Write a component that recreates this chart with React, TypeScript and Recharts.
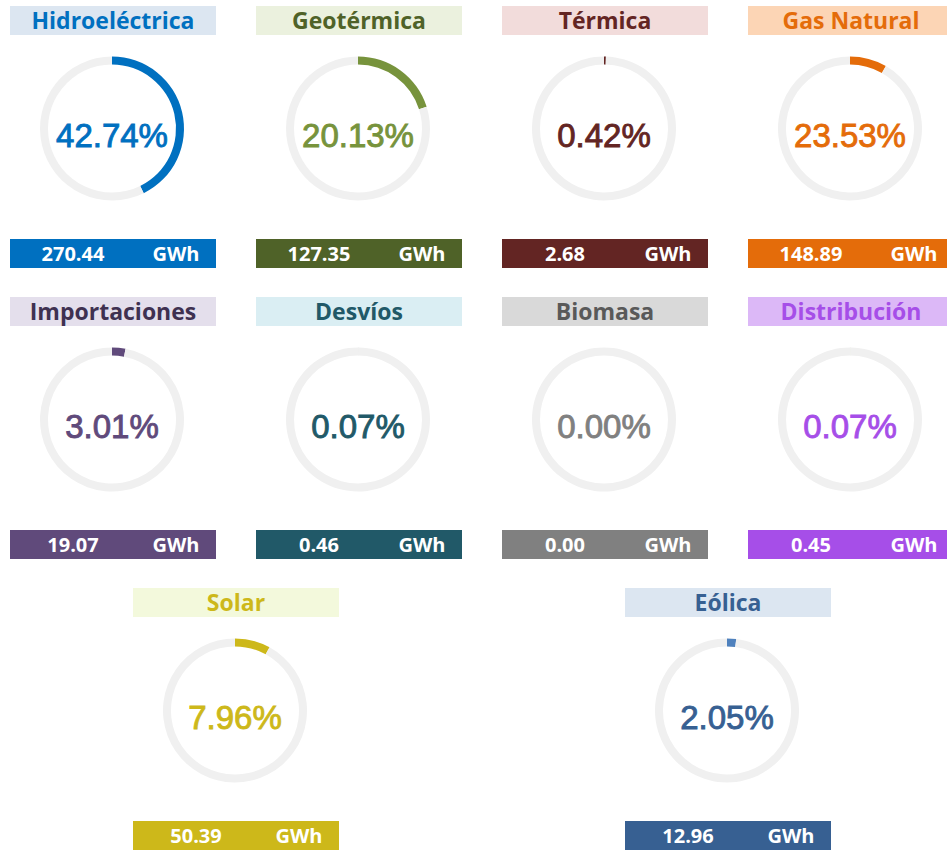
import React from "react";
import { Cell, Label, Pie, PieChart } from "recharts";

// Share of total generation per source (%), as printed in each ring
const sources = [
  "Hidroeléctrica",
  "Geotérmica",
  "Térmica",
  "Gas Natural",
  "Importaciones",
  "Desvíos",
  "Biomasa",
  "Distribución",
  "Solar",
  "Eólica",
];
const sharePct = [42.74, 20.13, 0.42, 23.53, 3.01, 0.07, 0.0, 0.07, 7.96, 2.05];
// Arc actually drawn (Gas Natural's ring in the source only fills ~8%)
const arcPct = [42.74, 20.13, 0.42, 8.3, 3.01, 0.07, 0.0, 0.07, 7.96, 2.05];
const energyGWh = [270.44, 127.35, 2.68, 148.89, 19.07, 0.46, 0.0, 0.45, 50.39, 12.96];

// colours: [title bg, title text, arc, percent text, bottom bar]
const palette = [
  ["#dce6f1", "#0070c0", "#0070c0", "#0070c0", "#0070c0"],
  ["#ebf1de", "#4f6228", "#77933c", "#77933c", "#4f6228"],
  ["#f2dcdb", "#632523", "#632523", "#632523", "#632523"],
  ["#fcd5b5", "#e46c0a", "#e46c0a", "#e46c0a", "#e46c0a"],
  ["#e4dfec", "#3f3151", "#604a7b", "#604a7b", "#604a7b"],
  ["#daeef3", "#215968", "#c8c8c8", "#215968", "#215968"],
  ["#d9d9d9", "#595959", "#808080", "#808080", "#808080"],
  ["#dcb8f7", "#a64ee8", "#c9d3b8", "#a64ee8", "#a64ee8"],
  ["#f3f9dc", "#cdb81a", "#cdb81a", "#cdb81a", "#cdb81a"],
  ["#dce6f1", "#376092", "#4f81bd", "#376092", "#376092"],
];

const slots = [
  [10, 6], [256, 6], [502, 6], [748, 6],
  [10, 297], [256, 297], [502, 297], [748, 297],
  [133, 588], [625, 588],
];

const W = 206;
const CX = 102;
const CY = 92.5;
const RING = "#f0f0f0";
const TITLE_FONT = "'Open Sans', sans-serif";

function Gauge({ i }: { i: number }) {
  const [bg, titleColor, arcColor, pctColor, barColor] = palette[i];
  const [left, top] = slots[i];
  const data = [
    { name: "share", value: arcPct[i] },
    { name: "rest", value: 100 - arcPct[i] },
  ];
  const pctText = sharePct[i].toFixed(2) + "%";

  return (
    <div style={{ position: "absolute", left, top, width: W, height: 262 }}>
      <div
        style={{
          height: 29,
          lineHeight: "29px",
          background: bg,
          color: titleColor,
          fontFamily: TITLE_FONT,
          fontWeight: 700,
          fontSize: 23,
          textAlign: "center",
          whiteSpace: "nowrap",
        }}
      >
        {sources[i]}
      </div>
      <div style={{ position: "absolute", top: 30, left: 0 }}>
        <PieChart width={W} height={188} margin={{ top: 0, right: 0, bottom: 0, left: 0 }}>
          <Pie
            data={data}
            dataKey="value"
            cx={CX}
            cy={CY}
            innerRadius={64}
            outerRadius={72}
            startAngle={90}
            endAngle={-270}
            stroke="none"
            isAnimationActive={false}
          >
            <Cell fill={arcColor} />
            <Cell fill={RING} />
            <Label
              position="center"
              content={() => (
                <text
                  x={CX}
                  y={CY + 7}
                  textAnchor="middle"
                  dominantBaseline="central"
                  fill={pctColor}
                  stroke={pctColor}
                  strokeWidth={0.9}
                  fontFamily="'Liberation Sans', Arial, sans-serif"
                  fontSize={33}
                >
                  {pctText}
                </text>
              )}
            />
          </Pie>
        </PieChart>
      </div>
      <div
        style={{
          position: "absolute",
          top: 233,
          left: 0,
          width: W,
          height: 29,
          background: barColor,
          color: "#fff",
          fontFamily: TITLE_FONT,
          fontWeight: 700,
          fontSize: 20,
          lineHeight: "29px",
        }}
      >
        <span style={{ position: "absolute", left: 13, width: 100, textAlign: "center" }}>
          {energyGWh[i].toFixed(2)}
        </span>
        <span style={{ position: "absolute", left: 116, width: 100, textAlign: "center" }}>GWh</span>
      </div>
    </div>
  );
}

export default function App() {
  return (
    <div
      style={{
        position: "absolute",
        left: 0,
        top: 0,
        width: 947,
        height: 850,
        background: "#fff",
        overflow: "hidden",
      }}
    >
      {sources.map((_, i) => (
        <Gauge key={sources[i]} i={i} />
      ))}
    </div>
  );
}
